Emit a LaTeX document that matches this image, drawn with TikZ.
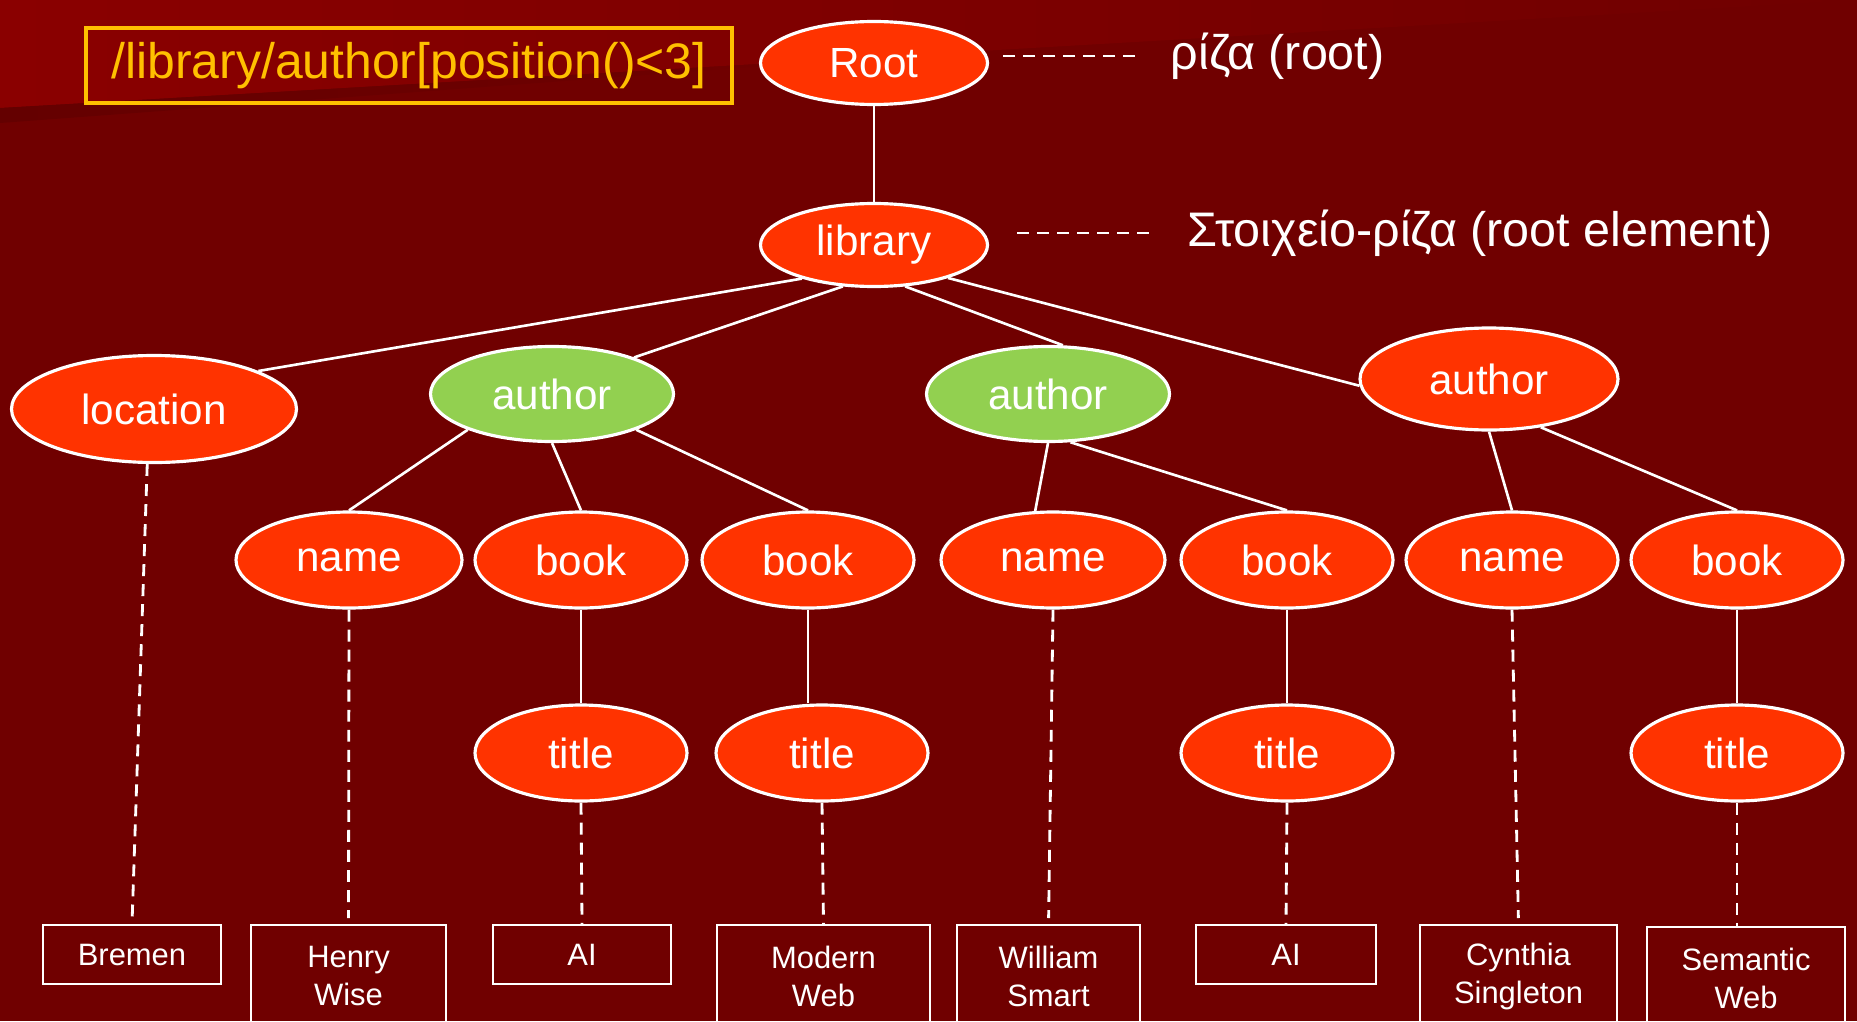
\documentclass[tikz,border=0pt]{standalone}
\usepackage{fontspec}
\setmainfont{Liberation Sans}
\usetikzlibrary{shapes.geometric, calc}
\definecolor{bgred}{RGB}{112,0,0}
\definecolor{bglight}{RGB}{138,0,0}
\definecolor{bgshadow}{RGB}{100,0,0}
\definecolor{elemred}{RGB}{255,51,0}
\definecolor{elemgreen}{RGB}{146,208,80}
\definecolor{querygold}{RGB}{255,192,0}

\begin{document}
\begin{tikzpicture}[
  elem/.style={ellipse,draw=white,line width=0.9pt,fill=elemred,text=white,inner sep=0pt,minimum width=2.12cm,minimum height=0.96cm,font=\fontsize{12}{14}\selectfont},
  hit/.style={elem,fill=elemgreen,minimum width=2.43cm,minimum height=0.95cm},
  leaf/.style={draw=white,line width=0.7pt,text=white,anchor=north,align=center,inner sep=0pt,minimum height=0.59cm,font=\fontsize{8.8}{10.8}\selectfont},
  twoline/.style={leaf,minimum height=1.02cm},
  branch/.style={white,line width=0.75pt},
  guide/.style={white,line width=0.8pt,dash pattern=on 3.4pt off 2.3pt},
  gloss/.style={text=white,anchor=west,inner sep=0pt,font=\fontsize{13.8}{16}\selectfont}]
  \clip (0,0) rectangle (18.57,10.21);
  \fill[bgred] (0,0) rectangle (18.57,10.21); %背景
  \shade[left color=bglight,right color=bgred] (0,10.21)--(18.57,10.21)--(0,9.13)--cycle;
  \shade[left color=bgshadow,right color=bgred] (0,9.13)--(9,9.65)--(0,8.98)--cycle;

  \node[draw=querygold,line width=1pt,text=querygold,minimum width=6.46cm,minimum height=0.75cm,inner sep=0pt,font=\fontsize{14.2}{17}\selectfont] (query) at (4.09,9.555) {/library/author[position()<3]};

  % 木構造
  \node[elem,minimum width=2.27cm,minimum height=0.83cm] (root) at (8.74,9.58) {Root};
  \node[elem,minimum width=2.27cm,minimum height=0.83cm] (lib) at (8.74,7.76) {library};
  \node[elem,minimum width=2.85cm,minimum height=1.07cm] (loc) at (1.54,6.12) {location};
  \node[hit] (a1) at (5.52,6.27) {author};
  \node[hit] (a2) at (10.48,6.27) {author};
  \node[elem,minimum width=2.58cm,minimum height=1.02cm] (a3) at (14.89,6.42) {author};
  \node[elem,minimum width=2.26cm] (n1) at (3.49,4.61) {name};
  \node[elem] (b1) at (5.81,4.61) {book};
  \node[elem] (b2) at (8.08,4.61) {book};
  \node[elem,minimum width=2.24cm] (n2) at (10.53,4.61) {name};
  \node[elem] (b3) at (12.87,4.61) {book};
  \node[elem] (n3) at (15.12,4.61) {name};
  \node[elem] (b4) at (17.37,4.61) {book};
  \node[elem] (t1) at (5.81,2.68) {title};
  \node[elem] (t2) at (8.22,2.68) {title};
  \node[elem] (t3) at (12.87,2.68) {title};
  \node[elem] (t4) at (17.37,2.68) {title};

  % 値
  \node[leaf,minimum width=1.78cm] (bremen) at (1.32,0.97) {Bremen};
  \node[twoline,minimum width=1.95cm] (henry) at (3.485,0.97) {Henry\\Wise};
  \node[leaf,minimum width=1.78cm] (ai1) at (5.82,0.97) {AI};
  \node[twoline,minimum width=2.13cm] (modern) at (8.235,0.97) {Modern\\Web};
  \node[twoline,minimum width=1.83cm] (william) at (10.485,0.97) {William\\Smart};
  \node[leaf,minimum width=1.80cm] (ai2) at (12.86,0.97) {AI};
  \node[twoline,minimum width=1.97cm] (cynthia) at (15.185,0.97) {Cynthia\\Singleton};
  \node[twoline,minimum width=1.98cm] (semantic) at (17.46,0.95) {Semantic\\Web};

  \draw[branch] (root)--(lib);
  \draw[branch] (lib.205)--(loc.20);
  \draw[branch] (lib.233)--(a1.24);
  \draw[branch] (lib.307)--(a2.73);
  \draw[branch] (lib.336)--(a3.183);
  \draw[branch] (a1.203)--(n1.north);
  \draw[branch] (a1.south)--(b1.north);
  \draw[branch] (a1.337)--(b2.north);
  \draw[branch] (a2.south)--(n2.110);
  \draw[branch] (a2.295)--(b3.north);
  \draw[branch] (a3.south)--(n3.north);
  \draw[branch] (a3.317)--(b4.north);
  \draw[branch] (b1)--(t1);
  \draw[branch] (b2.south)--(b2.south |- t2.north);
  \draw[branch] (b3)--(t3);
  \draw[branch] (b4)--(t4);

  \draw[guide,shorten >=0.06cm] (loc.263)--(bremen.north);
  \draw[guide,shorten >=0.06cm] (n1.south)--(henry.north);
  \draw[guide,shorten >=0.06cm] (n2.south)--(william.north);
  \draw[guide,shorten >=0.06cm] (n3.south)--(cynthia.north);
  \draw[guide] (t1.south)--(ai1.north);
  \draw[guide] (t2.south)--(modern.north);
  \draw[guide] (t3.south)--(ai2.north);
  \draw[guide] (t4.south)--(t4.south |- semantic.north);

  % 説明
  \node[gloss] (rootlbl) at (11.70,9.65) {ρίζα (root)};
  \node[gloss] (liblbl) at (11.87,7.88) {Στοιχείο-ρίζα (root element)};
  \draw[guide,shorten <=0.14cm,shorten >=0.33cm] (root.east |- rootlbl.west)--(rootlbl.west);
  \draw[guide,shorten <=0.28cm,shorten >=0.36cm] (lib.east |- liblbl.west)--(liblbl.west);
\end{tikzpicture}
\end{document}
